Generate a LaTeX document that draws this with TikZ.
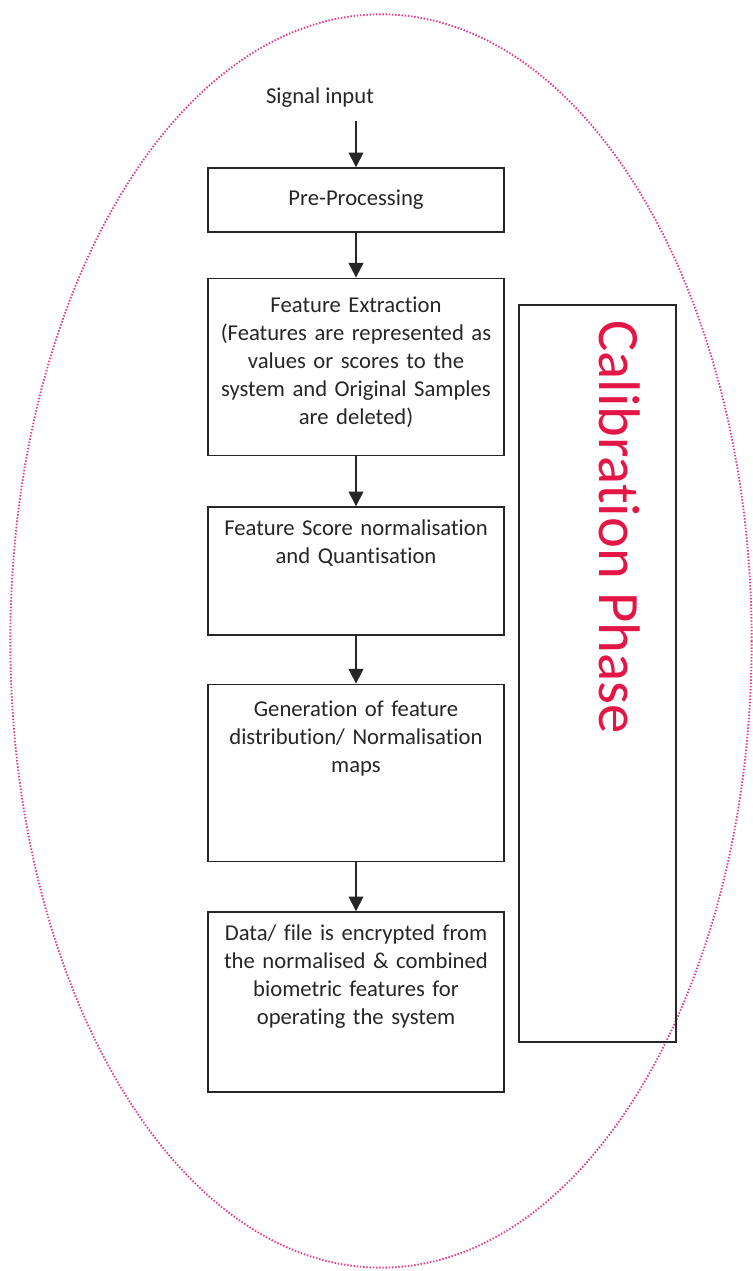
\documentclass[tikz,border=0pt]{standalone}
\usepackage{fontspec}
\setmainfont{Carlito}[Ligatures=NoCommon]
\usetikzlibrary{arrows.meta}

\definecolor{calibred}{RGB}{228,22,70}
\definecolor{ovalpink}{RGB}{226,60,140}

\tikzset{
  box/.style={draw=black!85, line width=1.1pt, minimum width=222pt},
  txt/.style={text width=218pt, align=center, anchor=north, inner sep=0pt},
  flow/.style={-{Triangle[length=11pt,width=11pt]}, line width=1.3pt, draw=black!85}
}

\begin{document}
\begin{tikzpicture}[x=0.75pt, y=-0.75pt, font=\fontsize{17}{21}\selectfont, text=black!85]

\useasboundingbox (0,0) rectangle (753,1271);

% Oval
\draw[ovalpink, line width=1.4pt, dash pattern=on 1.1pt off 1.3pt]
  (381,641) ellipse [x radius=278pt, y radius=470pt];

% Entrada
\node (sig) at (320,98) {Signal input};
\coordinate (sigend) at (356,121);

% Cajas
\node[box, minimum height=48pt] (pre) at (356,200) {Pre-Processing};
\node[box, minimum height=133pt] (feat) at (356,367) {};
\node[box, minimum height=96pt] (norm) at (356,571) {};
\node[box, minimum height=133pt] (gen) at (356,773) {};
\node[box, minimum height=135pt] (data) at (356,1002) {};

% Textos
\node[txt] at ([yshift=-14pt]feat.north) {Feature Extraction\\(Features are represented as\\values or scores to the\\system and Original Samples\\are deleted)};
\node[txt] at ([yshift=-10pt]norm.north) {Feature Score normalisation\\and Quantisation};
\node[txt] at ([yshift=-13pt]gen.north) {Generation of feature\\distribution/ Normalisation\\maps};
\node[txt] at ([yshift=-10pt]data.north) {Data/ file is encrypted from\\the normalised \& combined\\biometric features for\\operating the system};

% Fase
\node[box, minimum width=118pt, minimum height=553pt] (cal) at (597.5,673.5) {};
\node[text=calibred, rotate=-90, anchor=base, font=\fontsize{44}{50}\selectfont] (calt) at (599,527) {Calibration Phase};

% Flechas
\draw[flow] (sigend) -- (pre.north);
\draw[flow] (pre.south) -- (feat.north);
\draw[flow] (feat.south) -- (norm.north);
\draw[flow] (norm.south) -- (gen.north);
\draw[flow] (gen.south) -- (data.north);

\end{tikzpicture}
\end{document}
